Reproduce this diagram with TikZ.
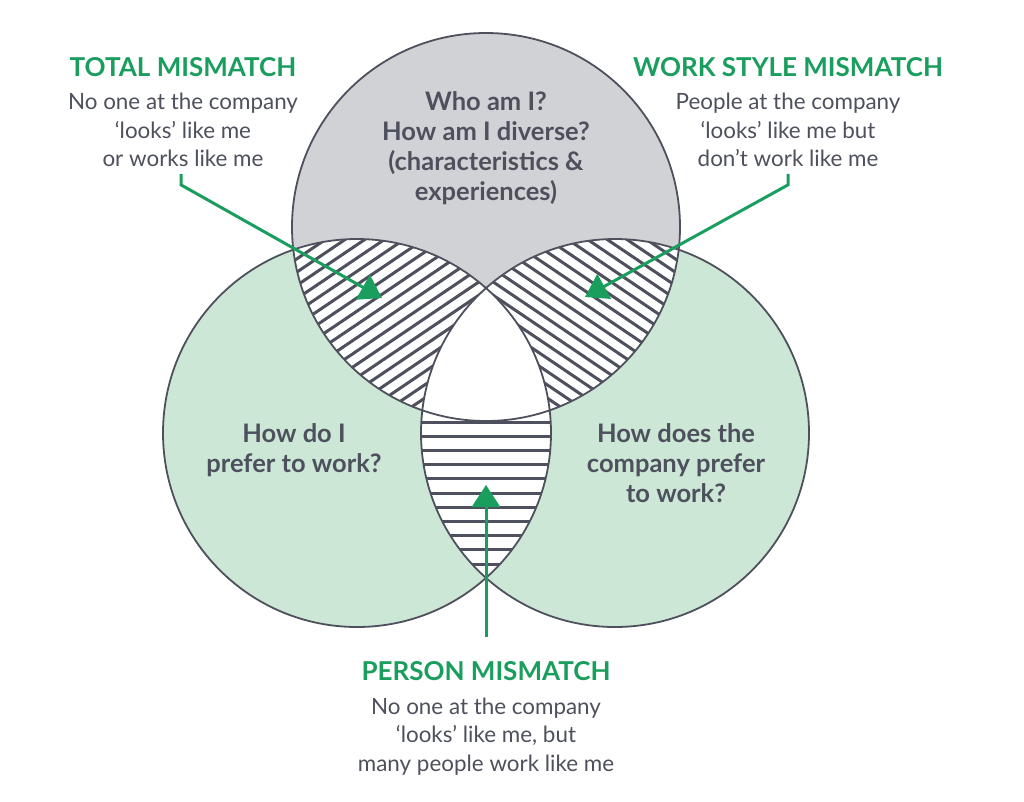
\documentclass[tikz,border=0pt]{standalone}
\usepackage{fontspec}
\setmainfont{Lato}
\usetikzlibrary{arrows.meta,positioning}

\definecolor{mismatchgreen}{RGB}{26,158,94}
\definecolor{workgreen}{RGB}{204,231,214}
\definecolor{whogray}{RGB}{209,210,214}
\definecolor{inkgray}{RGB}{78,81,93}

\tikzset{
  circletext/.style={text=inkgray,align=center,inner sep=0pt,
    font=\bfseries\fontsize{25.5}{30}\selectfont},
  headline/.style={text=mismatchgreen,inner sep=0pt,
    font=\bfseries\fontsize{26}{30}\selectfont},
  explain/.style={text=inkgray,align=center,inner sep=0pt,
    font=\fontsize{22.4}{28.5}\selectfont},
  pointer/.style={draw=mismatchgreen,line width=3pt,
    -{Triangle[length=22pt,width=28pt]}},
  hatch/.style={draw=inkgray,line width=3pt},
  rim/.style={draw=inkgray,line width=1.8pt}
}

\begin{document}
\begin{tikzpicture}[x=1pt,y=-1pt]
  \fill[white] (0,0) rectangle (1024,801);
  \useasboundingbox (0,0) rectangle (1024,801);

  % centres of the three sets
  \coordinate (who) at (486,227);
  \coordinate (me) at (357,433);
  \coordinate (firm) at (615,433);
  \def\rad{194pt}

  \fill[whogray] (who) circle[radius=\rad];
  \fill[workgreen] (me) circle[radius=\rad];
  \fill[workgreen] (firm) circle[radius=\rad];

  % who and me
  \begin{scope}
    \clip (who) circle[radius=\rad];
    \clip (me) circle[radius=\rad];
    \fill[white] (0,0) rectangle (1024,801);
    \foreach \k in {-14,...,14}
      \draw[hatch] ({188+\k*6.15},{465+\k*9.12}) -- ++(400,-270);
  \end{scope}

  % who and firm
  \begin{scope}
    \clip (who) circle[radius=\rad];
    \clip (firm) circle[radius=\rad];
    \fill[white] (0,0) rectangle (1024,801);
    \foreach \k in {-14,...,14}
      \draw[hatch] ({384-\k*6.15},{195+\k*9.12}) -- ++(400,270);
  \end{scope}

  % me and firm
  \begin{scope}
    \clip (me) circle[radius=\rad];
    \clip (firm) circle[radius=\rad];
    \fill[white] (0,0) rectangle (1024,801);
    \foreach \k in {0,...,11}
      \draw[hatch] (400,{422+\k*14.2}) -- ++(170,0);
    \clip (who) circle[radius=\rad];
    \fill[white] (0,0) rectangle (1024,801);
  \end{scope}

  \draw[rim] (who) circle[radius=\rad] (me) circle[radius=\rad]
    (firm) circle[radius=\rad];

  \node[circletext] (whotext) at (486,148)
    {Who am I?\\How am I diverse?\\(characteristics \&\\experiences)};
  \node[circletext] (metext) at (294,450) {How do I\\prefer to work?};
  \node[circletext] (firmtext) at (676,463)
    {How does the\\company prefer\\to work?};

  % labels
  \node[headline] (total) at (183,67) {TOTAL MISMATCH};
  \node[explain,below=16pt of total] (totaltext)
    {No one at the company\\`looks' like me\\or works like me};
  \node[headline] (style) at (788,67) {WORK STYLE MISMATCH};
  \node[explain,below=16pt of style] (styletext)
    {People at the company\\`looks' like me but\\don't work like me};
  \node[headline] (person) at (486,671.5) {PERSON MISMATCH};
  \node[explain,below=16pt of person] (persontext)
    {No one at the company\\`looks' like me, but\\many people work like me};

  \coordinate (totaltip) at (382,298);
  \coordinate (styletip) at (585,297);
  \coordinate (persontip) at (486,485);
  \draw[pointer] ([xshift=-2pt,yshift=-7pt]totaltext.south) -- ++(0,11)
    -- (totaltip);
  \draw[pointer] ([yshift=-7pt]styletext.south) -- ++(0,11) -- (styletip);
  \draw[pointer] ([yshift=25pt]person.north) -- (persontip);
\end{tikzpicture}
\end{document}
